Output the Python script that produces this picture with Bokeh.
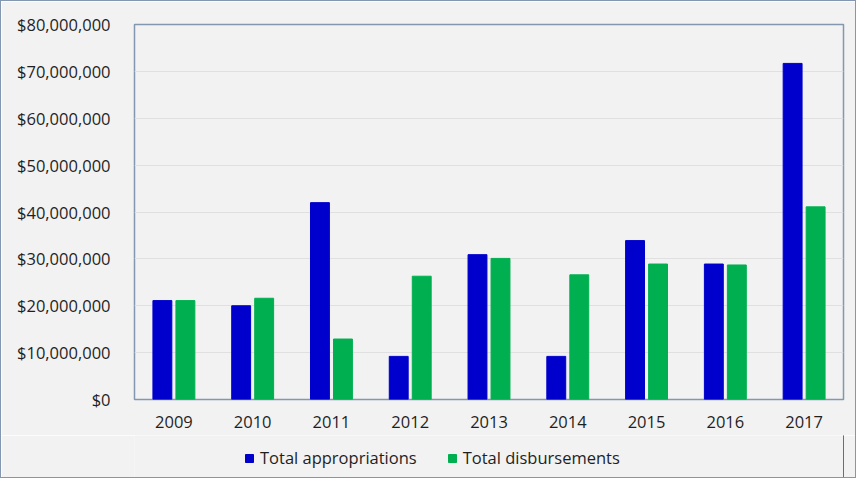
from bokeh.plotting import figure
from bokeh.layouts import column
from bokeh.models import ColumnDataSource, NumeralTickFormatter, Legend, LegendItem, FactorRange, SingleIntervalTicker
from bokeh.transform import dodge
from bokeh.embed import file_html
from bokeh.resources import INLINE

years = ["2009", "2010", "2011", "2012", "2013", "2014", "2015", "2016", "2017"]
appropriations = [21.1e6, 20.0e6, 42.0e6, 9.2e6, 30.9e6, 9.2e6, 33.9e6, 28.9e6, 71.7e6]
disbursements = [21.1e6, 21.6e6, 12.9e6, 26.3e6, 30.1e6, 26.6e6, 28.9e6, 28.7e6, 41.1e6]
series = ["Total appropriations", "Total disbursements"]
colors = ["#0000cc", "#00b050"]

src = ColumnDataSource(dict(year=years, app=appropriations, dis=disbursements))

FONT = "Open Sans"
BG = "#f2f2f2"
EDGE = "#8497b0"
TXT = "#1f1f1f"
FS = "16.5px"

p = figure(x_range=FactorRange(*years), y_range=(0, 80e6), width=854, height=434,
           output_backend="svg", toolbar_location=None,
           min_border_left=133, min_border_right=12, min_border_top=23, min_border_bottom=36,
           background_fill_color=BG, border_fill_color=BG)
p.outline_line_color = EDGE
p.outline_line_width = 1.5

p.vbar(x=dodge("year", -0.146, range=p.x_range), top="app", width=0.24, source=src,
       fill_color=colors[0], line_color=colors[0])
p.vbar(x=dodge("year", 0.146, range=p.x_range), top="dis", width=0.24, source=src,
       fill_color=colors[1], line_color=colors[1])

p.yaxis.ticker = SingleIntervalTicker(interval=10e6)
p.yaxis.formatter = NumeralTickFormatter(format="$0,0")
for ax in (p.xaxis[0], p.yaxis[0]):
    ax.axis_line_color = None
    ax.major_tick_line_color = None
    ax.minor_tick_line_color = None
    ax.major_label_text_font = FONT
    ax.major_label_text_font_size = FS
    ax.major_label_text_color = TXT
p.yaxis.major_label_standoff = 18
p.xaxis.major_label_standoff = 10

p.xgrid.grid_line_color = None
p.ygrid.grid_line_color = "#e0e0e0"
p.ygrid.grid_line_width = 1

# legend strip below the chart
lf = figure(width=854, height=42, output_backend="svg", toolbar_location=None,
            x_range=(0, 1), y_range=(0, 1),
            min_border_left=133, min_border_right=12, min_border_top=0, min_border_bottom=0,
            background_fill_color=BG, border_fill_color=BG)
lf.outline_line_color = None
lf.axis.visible = False
lf.grid.visible = False
dummy = ColumnDataSource(dict(x=[5], top=[5]))
lr1 = lf.vbar(x="x", top="top", width=0.1, source=dummy, fill_color=colors[0], line_color=colors[0])
lr2 = lf.vbar(x="x", top="top", width=0.1, source=dummy, fill_color=colors[1], line_color=colors[1])
legend = Legend(items=[LegendItem(label=series[0], renderers=[lr1]),
                       LegendItem(label=series[1], renderers=[lr2])],
                orientation="horizontal", location=(110, 8),
                background_fill_alpha=0, border_line_color=None,
                label_text_font=FONT, label_text_font_size=FS,
                label_text_color=TXT,
                glyph_width=10, glyph_height=10, spacing=30, label_standoff=6,
                margin=0, padding=4)
lf.add_layout(legend, "center")

layout = column(p, lf, spacing=0)
layout.styles = {"border": "1px solid " + EDGE}

open("out.html", "w").write(file_html(layout, INLINE))
